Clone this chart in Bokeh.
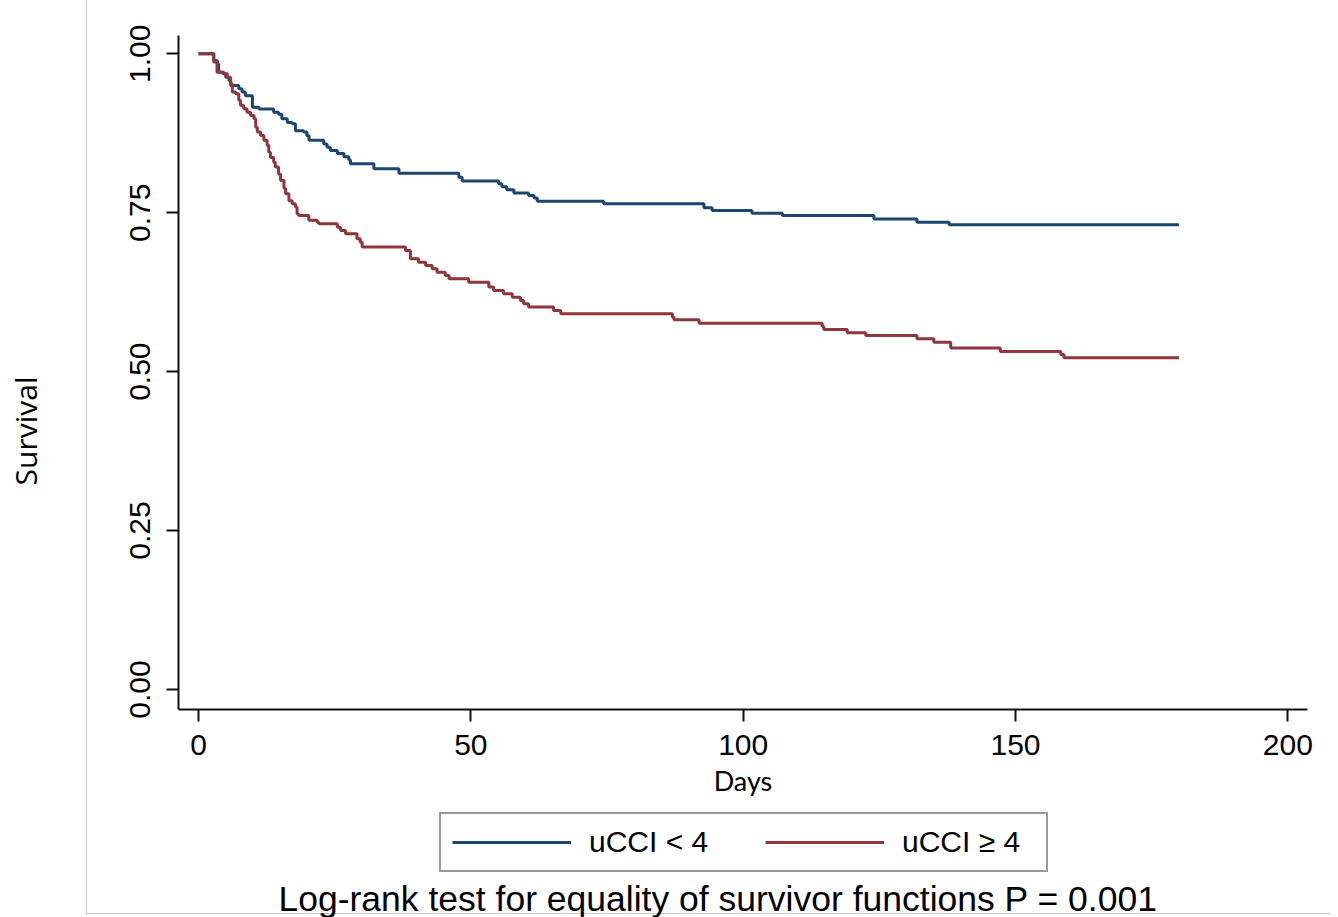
from bokeh.plotting import figure
from bokeh.layouts import column
from bokeh.models import (Range1d, FixedTicker, Legend, LegendItem,
                          Label, NumeralTickFormatter)
from bokeh.embed import file_html
from bokeh.resources import INLINE

# ---- data ----
low_days = [0, 2.8, 3.5, 3.7, 4.4, 5.0, 5.6, 5.9, 7.4, 8.0, 8.6, 9.9, 11.1, 13.8, 14.7,
            15.3, 16.3, 17.2, 17.8, 19.3, 19.9, 20.3, 23.0, 23.6, 24.2, 25.5, 26.7, 27.6,
            27.9, 32.2, 36.8, 47.8, 48.4, 55.1, 55.7, 56.6, 57.9, 60.6, 61.6, 62.2, 74.4,
            92.8, 94.3, 101.6, 107.2, 124.0, 131.9, 137.8, 180.0]
low_surv = [1.0, 0.989, 0.984, 0.971, 0.969, 0.963, 0.958, 0.950, 0.945, 0.940, 0.934,
            0.916, 0.913, 0.908, 0.905, 0.898, 0.892, 0.890, 0.879, 0.877, 0.871, 0.864,
            0.858, 0.853, 0.848, 0.843, 0.838, 0.833, 0.827, 0.819, 0.812, 0.806, 0.800,
            0.7955, 0.791, 0.786, 0.781, 0.777, 0.773, 0.768, 0.764, 0.758, 0.7535, 0.749,
            0.7456, 0.740, 0.735, 0.731, 0.731]

high_days = [0, 2.8, 3.4, 4.65, 5.3, 5.9, 6.2, 6.8, 7.4, 7.7, 8.3, 8.9, 9.55, 10.2, 10.5,
             10.8, 11.4, 12.0, 12.6, 12.9, 13.2, 13.8, 14.1, 14.7, 15.05, 15.7, 16.0, 16.6,
             17.2, 17.8, 18.1, 18.4, 20.25, 21.8, 22.1, 25.5, 26.1, 27.0, 29.1, 29.7, 30.05,
             38.0, 38.9, 40.4, 41.7, 42.9, 43.8, 45.3, 46.0, 49.6, 53.3, 54.2, 56.0, 57.6,
             59.1, 59.7, 60.6, 65.2, 66.5, 87.0, 87.3, 91.9, 114.5, 114.8, 119.1, 122.5,
             131.9, 135.0, 138.1, 147.2, 158.3, 158.9, 180.0]
high_surv = [1.0, 0.987, 0.971, 0.9685, 0.963, 0.953, 0.940, 0.937, 0.927, 0.919, 0.9135,
             0.908, 0.903, 0.898, 0.8845, 0.877, 0.8715, 0.864, 0.856, 0.845, 0.837, 0.8295,
             0.822, 0.811, 0.801, 0.788, 0.780, 0.769, 0.764, 0.759, 0.748, 0.7456, 0.738,
             0.735, 0.7326, 0.727, 0.722, 0.717, 0.709, 0.7036, 0.696, 0.6906, 0.6775, 0.672,
             0.667, 0.662, 0.6564, 0.6512, 0.646, 0.6407, 0.633, 0.6277, 0.6225, 0.617,
             0.612, 0.6067, 0.6015, 0.596, 0.591, 0.5857, 0.5816, 0.5762, 0.571, 0.5663,
             0.561, 0.557, 0.5517, 0.5463, 0.537, 0.5317, 0.527, 0.5218, 0.5218]

series_labels = ["uCCI < 4", "uCCI \u2265 4"]
x_ticks = [0, 50, 100, 150, 200]
y_ticks = [0.0, 0.25, 0.5, 0.75, 1.0]
x_title = "Days"
y_title = "Survival"
note = "Log-rank test for equality of survivor functions P = 0.001"

NAVY = "#1a476f"
MAROON = "#90353b"
FONT = "Liberation Sans"
GRAY = "#c8c8c8"

# ---------------- main plot ----------------
p = figure(frame_width=1129, frame_height=674, output_backend="svg", toolbar_location=None,
           x_range=Range1d(-3.67, 203.6), y_range=Range1d(-0.0315, 1.0288),
           min_border_left=178, min_border_right=23, min_border_top=35,
           min_border_bottom=100)
p.outline_line_color = None
p.grid.visible = False
p.background_fill_color = "white"
p.border_fill_alpha = 0
p.styles = {
    "background-color": "white",
    "background-image": f"linear-gradient({GRAY}, {GRAY})",
    "background-size": "1px 2000px",
    "background-position": "86px 0px",
    "background-repeat": "no-repeat",
}

r1 = p.step(low_days, low_surv, mode="after", line_color=NAVY, line_width=3)
r2 = p.step(high_days, high_surv, mode="after", line_color=MAROON, line_width=3)

for ax in (p.xaxis[0], p.yaxis[0]):
    ax.axis_line_width = 2
    ax.axis_line_color = "#111111"
    ax.major_tick_line_width = 2
    ax.major_tick_line_color = "#111111"
    ax.major_tick_out = 12
    ax.major_tick_in = 0
    ax.minor_tick_line_color = None
    ax.major_label_text_font = FONT
    ax.major_label_text_font_size = "30px"
    ax.major_label_text_color = "#000000"
    ax.axis_label_text_font_style = "normal"
    ax.axis_label_text_color = "#000000"

p.xaxis.axis_label_text_font = "Lato"
p.xaxis.axis_label_text_font_size = "27px"
p.yaxis.axis_label_text_font = "Open Sans"
p.yaxis.axis_label_text_font_size = "30px"

p.xaxis.ticker = FixedTicker(ticks=x_ticks)
p.yaxis.ticker = FixedTicker(ticks=y_ticks)
p.yaxis.formatter = NumeralTickFormatter(format="0.00")
p.yaxis.major_label_orientation = "vertical"
p.xaxis.axis_label = x_title
# trailing no-break spaces push the visible title down the axis, as in the reference
p.yaxis.axis_label = y_title + "\u00a0" * 15
p.xaxis.major_label_standoff = 13
p.xaxis.axis_label_standoff = 6
p.yaxis.major_label_standoff = 16
p.yaxis.axis_label_standoff = 82

# ---------------- legend + note strip ----------------
p2 = figure(width=1330, height=108, output_backend="svg", toolbar_location=None,
            x_axis_type=None, y_axis_type=None, min_border=0,
            x_range=Range1d(-10, -9), y_range=Range1d(-10, -9))
p2.outline_line_color = None
p2.grid.visible = False
p2.background_fill_alpha = 0
p2.border_fill_alpha = 0
p2.styles = {
    "background-color": "white",
    "background-image": f"linear-gradient({GRAY}, {GRAY}), linear-gradient({GRAY}, {GRAY})",
    "background-size": "1px 104px, 2000px 1px",
    "background-position": "86px 0px, 86px 104px",
    "background-repeat": "no-repeat",
}

# legend keys: same series, kept outside this strip's visible range
k1 = p2.step(low_days, low_surv, mode="after", line_color=NAVY, line_width=3)
k2 = p2.step(high_days, high_surv, mode="after", line_color=MAROON, line_width=3)

legend = Legend(items=[LegendItem(label=series_labels[0], renderers=[k1]),
                       LegendItem(label=series_labels[1], renderers=[k2])],
                orientation="horizontal", location=(261, 45),
                label_text_font=FONT, label_text_font_size="30px",
                label_text_color="#000000",
                glyph_width=119, glyph_height=20, label_height=20, label_standoff=18,
                label_width=133, spacing=43, padding=11, margin=0,
                border_line_color="#333333", border_line_width=2,
                background_fill_color="white", background_fill_alpha=1)
p2.add_layout(legend, "center")

note_label = Label(x=100, y=19, x_units="screen", y_units="screen", text=note,
                   text_align="left", text_baseline="alphabetic",
                   text_font=FONT, text_font_size="35.5px", text_color="#000000")
p2.add_layout(note_label)

layout = column(p, p2, spacing=0)
open("out.html", "w").write(file_html(layout, INLINE))
